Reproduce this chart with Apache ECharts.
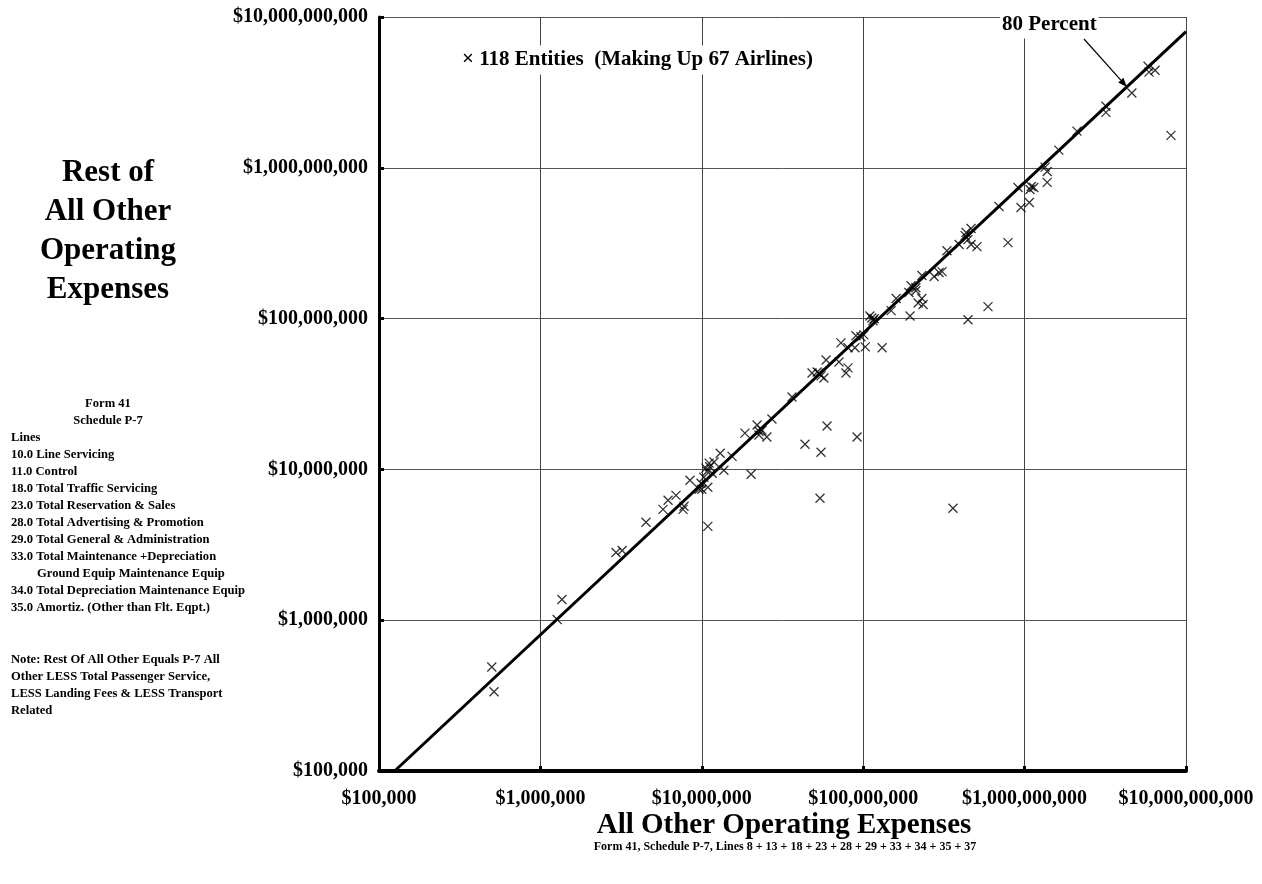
<!DOCTYPE html>
<html>
<head>
<meta charset="utf-8">
<script src="https://cdn.jsdelivr.net/npm/echarts@6/dist/echarts.min.js"></script>
<style>
html,body{margin:0;padding:0;background:#fff;}
#chart{width:1262px;height:884px;}
</style>
</head>
<body>
<div id="chart"></div>
<script>
// All Other Operating Expenses (x) vs Rest of All Other Operating Expenses (y), one point per entity
var xVals = [
  5.0e5, 5.16e5, 1.27e6, 1.36e6, 2.94e6, 3.21e6, 4.51e6, 5.75e6, 6.18e6, 6.92e6,
  7.65e6, 7.76e6, 8.45e6, 9.62e6, 1.00e7, 1.03e7, 1.09e7, 1.09e7, 1.06e7, 1.11e7,
  1.19e7, 1.16e7, 1.30e7, 1.37e7, 1.54e7, 2.02e7, 1.85e7, 2.20e7, 2.26e7, 2.36e7,
  2.53e7, 2.72e7, 3.62e7, 4.36e7, 5.48e7, 5.97e7, 5.40e7, 9.16e7, 4.82e7, 5.32e7,
  5.48e7, 5.89e7, 7.28e7, 7.08e7, 7.82e7, 8.05e7, 8.05e7, 8.89e7, 9.02e7, 1.03e8,
  1.01e8, 1.31e8, 1.13e8, 1.15e8, 1.49e8, 1.60e8, 1.95e8, 1.92e8, 1.98e8, 2.12e8,
  2.31e8, 2.35e8, 2.19e8, 2.31e8, 2.75e8, 2.95e8, 3.08e8, 3.30e8, 4.46e8, 5.93e8,
  3.93e8, 4.34e8, 4.66e8, 4.46e8, 4.66e8, 5.07e8, 6.94e8, 7.89e8, 9.10e8, 9.50e8,
  1.07e9, 1.10e9, 1.14e9, 1.34e9, 1.38e9, 1.38e9, 1.63e9, 2.11e9, 3.19e9, 3.19e9,
  4.62e9, 5.82e9, 5.90e9, 6.43e9, 8.07e9,
  1.08e7, 1.12e7, 1.10e8, 1.17e8, 5.18e7, 9.68e7, 9.89e6, 2.12e8, 1.08e9, 2.26e7,
  4.28e8, 5.71e7, 3.60e8
];
var yVals = [
  4.9e5, 3.35e5, 1.01e6, 1.37e6, 2.81e6, 2.90e6, 4.46e6, 5.43e6, 6.24e6, 6.73e6,
  5.43e6, 5.69e6, 8.47e6, 7.38e6, 7.38e6, 8.87e6, 7.62e6, 4.19e6, 1.02e7, 1.10e7,
  1.12e7, 9.44e6, 1.28e7, 9.88e6, 1.22e7, 9.29e6, 1.74e7, 1.97e7, 1.69e7, 1.82e7,
  1.64e7, 2.16e7, 3.02e7, 1.47e7, 1.30e7, 1.94e7, 6.44e6, 1.64e7, 4.36e7, 4.36e7,
  4.17e7, 5.32e7, 6.90e7, 5.16e7, 4.36e7, 4.71e7, 6.40e7, 6.40e7, 7.69e7, 6.49e7,
  7.80e7, 6.40e7, 1.01e8, 9.67e7, 1.13e8, 1.36e8, 1.04e8, 1.49e8, 1.65e8, 1.60e8,
  1.36e8, 1.24e8, 1.27e8, 1.93e8, 1.90e8, 2.02e8, 2.05e8, 2.82e8, 9.82e7, 1.20e8,
  3.10e8, 3.72e8, 3.96e8, 3.34e8, 3.10e8, 3.00e8, 5.54e8, 3.19e8, 7.41e8, 5.46e8,
  5.89e8, 7.52e8, 7.41e8, 1.01e9, 9.46e8, 8.00e8, 1.31e9, 1.75e9, 2.56e9, 2.33e9,
  3.13e9, 4.72e9, 4.31e9, 4.44e9, 1.64e9,
  9.73e6, 1.04e7, 1.04e8, 9.97e7, 4.43e7, 7.57e7, 8.09e6, 1.53e8, 7.18e8, 1.79e7,
  3.55e8, 4.04e7, 5.52e6
];
// 80 percent reference line (y = 0.8 x), endpoints on the plot border
var refX = [1.25e5, 1e10];
var refY = [1e5, 8e9];
var axisMin = 1e5;
var axisMax = 1e10;

var yTitleLines = ['Rest of', 'All Other', 'Operating', 'Expenses'];
var xTitle = 'All Other Operating Expenses';
var xSubtitle = 'Form 41, Schedule P-7, Lines 8 + 13 + 18 + 23 + 28 + 29 + 33 + 34 + 35 + 37';
var legendText = '\u00d7 118 Entities  (Making Up 67 Airlines)';
var refLabel = '80 Percent';
var formHeader = ['Form 41', 'Schedule P-7'];
var lineItems = [
  'Lines',
  '10.0 Line Servicing',
  '11.0 Control',
  '18.0 Total Traffic Servicing',
  '23.0 Total Reservation & Sales',
  '28.0 Total Advertising & Promotion',
  '29.0 Total General & Administration',
  '33.0 Total Maintenance +Depreciation',
  '       Ground Equip Maintenance Equip',
  '34.0 Total Depreciation Maintenance Equip',
  '35.0 Amortiz. (Other than Flt. Eqpt.)'
];
var noteLines = [
  'Note: Rest Of All Other Equals P-7 All',
  'Other LESS Total Passenger Service,',
  'LESS Landing Fees & LESS Transport',
  'Related'
];

var FONT = "'Liberation Serif', 'Times New Roman', serif";
var scatterData = xVals.map(function (x, i) { return [x, yVals[i]]; });
var refData = refX.map(function (x, i) { return [x, refY[i]]; });

function money(v) {
  return '$' + Math.round(v).toLocaleString('en-US');
}

var chart = echarts.init(document.getElementById('chart'), null, {renderer: 'canvas', width: 1262, height: 884});

var graphics = [];
// Y title
graphics.push({
  type: 'text', x: 108, y: 231,
  style: {text: yTitleLines.join('\n'), font: 'bold 31px ' + FONT, fill: '#000',
          textAlign: 'center', textVerticalAlign: 'middle', lineHeight: 39}
});
// Form header
formHeader.forEach(function (t, i) {
  graphics.push({type: 'text', x: 108, y: 404 + i * 17,
    style: {text: t, font: 'bold 12.6px ' + FONT, fill: '#000', textAlign: 'center', textVerticalAlign: 'middle'}});
});
lineItems.forEach(function (t, i) {
  var indent = t.indexOf('Ground') >= 0;
  graphics.push({type: 'text', x: indent ? 37 : 11, y: 438 + i * 17,
    style: {text: t.trim(), font: 'bold 12.6px ' + FONT, fill: '#000', textAlign: 'left', textVerticalAlign: 'middle'}});
});
noteLines.forEach(function (t, i) {
  graphics.push({type: 'text', x: 11, y: 660 + i * 17,
    style: {text: t, font: 'bold 12.6px ' + FONT, fill: '#000', textAlign: 'left', textVerticalAlign: 'middle'}});
});
// X title & subtitle
graphics.push({type: 'text', x: 784, y: 826,
  style: {text: xTitle, font: 'bold 29px ' + FONT, fill: '#000', textAlign: 'center', textVerticalAlign: 'middle'}});
graphics.push({type: 'text', x: 785, y: 847,
  style: {text: xSubtitle, font: 'bold 12px ' + FONT, fill: '#000', textAlign: 'center', textVerticalAlign: 'middle'}});
// Legend note
graphics.push({type: 'text', x: 460, y: 60, z: 10,
  style: {text: legendText, font: 'bold 21px ' + FONT, fill: '#000', textAlign: 'left', textVerticalAlign: 'middle',
          backgroundColor: '#fff', padding: [4, 2]}});
// 80 percent label
graphics.push({type: 'text', x: 1000, y: 25, z: 10,
  style: {text: refLabel, font: 'bold 21px ' + FONT, fill: '#000', textAlign: 'left', textVerticalAlign: 'middle',
          backgroundColor: '#fff', padding: [3, 2]}});

var option = {
  animation: false,
  backgroundColor: '#fff',
  grid: {left: 379, top: 17, width: 807, height: 754, containLabel: false},
  xAxis: {
    type: 'log', logBase: 10, min: axisMin, max: axisMax, splitNumber: 5,
    axisLine: {show: true, onZero: false, lineStyle: {color: '#000', width: 4}},
    axisTick: {show: true, inside: true, length: 5, lineStyle: {color: '#000', width: 3}},
    axisLabel: {show: true, margin: 18, formatter: money, color: '#000',
                fontFamily: FONT, fontWeight: 'bold', fontSize: 20, showMinLabel: true, showMaxLabel: true},
    splitLine: {show: true, lineStyle: {color: '#444', width: 1}},
    minorTick: {show: false}
  },
  yAxis: {
    type: 'log', logBase: 10, min: axisMin, max: axisMax, splitNumber: 5,
    axisLine: {show: true, onZero: false, lineStyle: {color: '#000', width: 3}},
    axisTick: {show: true, inside: true, length: 5, lineStyle: {color: '#000', width: 3}},
    axisLabel: {show: true, margin: 11, formatter: money, color: '#000',
                fontFamily: FONT, fontWeight: 'bold', fontSize: 20, showMinLabel: true, showMaxLabel: true},
    splitLine: {show: true, lineStyle: {color: '#555', width: 1}},
    minorTick: {show: false}
  },
  series: [
    {
      type: 'line', data: refData, showSymbol: false, symbol: 'none',
      lineStyle: {color: '#000', width: 3}, z: 3, silent: true
    },
    {
      type: 'scatter', data: scatterData,
      symbol: 'path://M0,0L10,10M10,0L0,10', symbolSize: 9,
      itemStyle: {color: 'rgba(0,0,0,0)', borderColor: '#000', borderWidth: 1.3},
      z: 4, silent: true
    }
  ],
  graphic: graphics
};
chart.setOption(option);

// Arrow from the "80 Percent" label to the reference line
var tipVal = 4.3e9;
var tip = chart.convertToPixel({gridIndex: 0}, [tipVal, tipVal * refY[1] / refX[1]]);
var start = [1084, 39];
var ang = Math.atan2(tip[1] - start[1], tip[0] - start[0]);
var hl = 9, hw = 3.5;
var bx = tip[0] - hl * Math.cos(ang), by = tip[1] - hl * Math.sin(ang);
var head = [
  [tip[0], tip[1]],
  [bx + hw * Math.sin(ang), by - hw * Math.cos(ang)],
  [bx - hw * Math.sin(ang), by + hw * Math.cos(ang)]
];
graphics.push({type: 'line', z: 10, shape: {x1: start[0], y1: start[1], x2: bx, y2: by},
  style: {stroke: '#000', lineWidth: 1.2}});
graphics.push({type: 'polygon', z: 10, shape: {points: head}, style: {fill: '#000'}});
chart.setOption({graphic: graphics});
</script>
</body>
</html>
